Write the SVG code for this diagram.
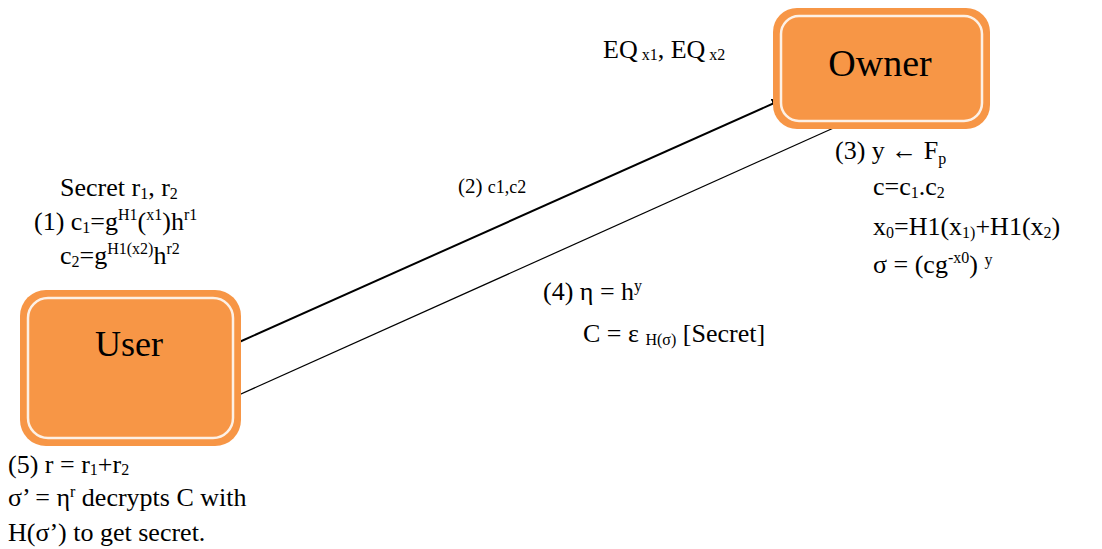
<svg xmlns="http://www.w3.org/2000/svg" width="1102" height="549" viewBox="0 0 1102 549">
<defs>
<marker id="ah" markerWidth="10" markerHeight="10" refX="9" refY="5" orient="auto" markerUnits="userSpaceOnUse">
<path d="M0,0 L10,5 L0,10 Z" fill="#000"/>
</marker>
<marker id="ah2" markerWidth="6" markerHeight="6" refX="5" refY="3" orient="auto" markerUnits="userSpaceOnUse">
<path d="M0,0 L6,3 L0,6 Z" fill="#000"/>
</marker>
</defs>
<g id="connectors">
<line x1="237" y1="343" x2="781" y2="100" stroke="#000" stroke-width="2" marker-end="url(#ah)"/>
<line x1="838" y1="126" x2="232" y2="398" stroke="#000" stroke-width="1.2" marker-end="url(#ah2)"/>
</g>
<g id="owner">
<rect x="773" y="8" width="217" height="121" rx="24" fill="#F79646"/>
<rect x="781" y="16" width="201" height="105" rx="18" fill="none" stroke="#FDF1E6" stroke-width="2.5"/>
<text x="880" y="76" font-family="Liberation Serif" font-size="38" text-anchor="middle">Owner</text>
</g>
<g id="user">
<rect x="20" y="290" width="221" height="156" rx="26" fill="#F79646"/>
<rect x="28" y="298" width="205" height="140" rx="20" fill="none" stroke="#FDF1E6" stroke-width="2.5"/>
<text x="129" y="356" font-family="Liberation Serif" font-size="36" text-anchor="middle">User</text>
</g>
<g id="labels">
<text x="603" y="58" font-family="Liberation Serif" font-size="26">EQ<tspan font-size="16" dy="2"> x1</tspan><tspan dy="-2">, EQ</tspan><tspan font-size="16" dy="2"> x2</tspan></text>
<text x="60" y="196" font-family="Liberation Serif" font-size="26">Secret r<tspan font-size="16" dy="3">1</tspan><tspan dy="-3">, r</tspan><tspan font-size="16" dy="3">2</tspan></text>
<text x="34" y="230" font-family="Liberation Serif" font-size="26">(1) c<tspan font-size="16" dy="3">1</tspan><tspan dy="-3">=g</tspan><tspan font-size="16" dy="-10">H1</tspan><tspan dy="10">(</tspan><tspan font-size="16" dy="-10">x1</tspan><tspan dy="10">)h</tspan><tspan font-size="16" dy="-10">r1</tspan></text>
<text x="60" y="264" font-family="Liberation Serif" font-size="26">c<tspan font-size="16" dy="3">2</tspan><tspan dy="-3">=g</tspan><tspan font-size="16" dy="-10">H1(x2)</tspan><tspan dy="10">h</tspan><tspan font-size="16" dy="-10">r2</tspan></text>
<text x="458" y="193" font-family="Liberation Serif" font-size="21">(2)  <tspan font-size="18">c1,c2</tspan></text>
<text x="835" y="159" font-family="Liberation Serif" font-size="26">(3) y  ← F<tspan font-size="16" dy="5">p</tspan></text>
<text x="873" y="195" font-family="Liberation Serif" font-size="26">c=c<tspan font-size="16" dy="3">1</tspan><tspan dy="-3">.c</tspan><tspan font-size="16" dy="3">2</tspan></text>
<text x="873" y="235" font-family="Liberation Serif" font-size="26">x<tspan font-size="16" dy="3">0</tspan><tspan dy="-3">=H1(x</tspan><tspan font-size="16" dy="3">1)</tspan><tspan dy="-3">+H1(x</tspan><tspan font-size="16" dy="3">2</tspan><tspan dy="-3">)</tspan></text>
<text x="873" y="273" font-family="Liberation Serif" font-size="26">σ = (cg<tspan font-size="16" dy="-10">-x0</tspan><tspan dy="10">) </tspan><tspan font-size="16" dy="-8">y</tspan></text>
<text x="543" y="300" font-family="Liberation Serif" font-size="26">(4) η = h<tspan font-size="16" dy="-9">y</tspan></text>
<text x="583" y="342" font-family="Liberation Serif" font-size="26">C = ε <tspan font-size="16" dy="3">H(σ)</tspan><tspan dy="-3"> [Secret]</tspan></text>
<text x="8" y="473" font-family="Liberation Serif" font-size="26">(5) r = r<tspan font-size="16" dy="2">1</tspan><tspan dy="-2">+r</tspan><tspan font-size="16" dy="2">2</tspan></text>
<text x="8" y="506" font-family="Liberation Serif" font-size="26">σ’ = η<tspan font-size="16" dy="-9">r</tspan><tspan dy="9"> decrypts C with</tspan></text>
<text x="8" y="541" font-family="Liberation Serif" font-size="26">H(σ’) to get secret.</text>
</g>
</svg>
